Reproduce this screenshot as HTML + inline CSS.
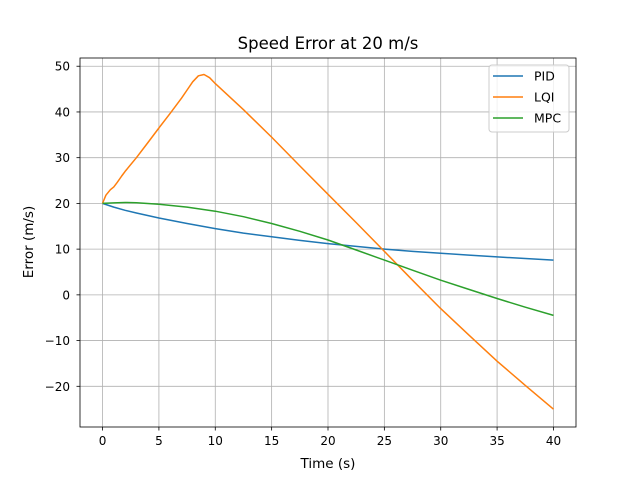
<!DOCTYPE html>
<html><head><meta charset="utf-8"><style>
body{margin:0;background:#fff;}
svg text{font-family:"DejaVu Sans","Liberation Sans",sans-serif;fill:#000;}
</style></head><body>
<svg id="chart" width="640" height="480" viewBox="0 0 640 480" xmlns="http://www.w3.org/2000/svg">
<rect width="640" height="480" fill="#fff"/>
<g id="grid"></g>
<g id="series"></g>
<rect x="80" y="58" width="496" height="369" fill="none" stroke="#000" stroke-width="0.8"/>
<g id="ticks"></g>
<text x="328" y="49" font-size="16.5" text-anchor="middle">Speed Error at 20 m/s</text>
<text x="328" y="468" font-size="13.5" text-anchor="middle">Time (s)</text>
<text x="33" y="242" font-size="13.5" text-anchor="middle" transform="rotate(-90 33 242)">Error (m/s)</text>
<g id="legend">
<rect x="489" y="65" width="80" height="67" rx="3" fill="#fff" fill-opacity="0.8" stroke="#ccc"/>
</g>
</svg>
<script>
const xTicks=[0,5,10,15,20,25,30,35,40];
const yTicks=[-20,-10,0,10,20,30,40,50];
const seriesNames=["PID","LQI","MPC"];
const seriesColors=["#1f77b4","#ff7f0e","#2ca02c"];
const pidT=[0,1,2,3,5,7.5,10,12.5,15,17.5,20,22.5,25,27.5,30,32.5,35,37.5,40];
const pidV=[20,19.2,18.5,17.9,16.8,15.6,14.5,13.5,12.7,11.9,11.2,10.6,10.0,9.5,9.1,8.7,8.3,7.95,7.6];
const lqiT=[0,0.3,0.7,1,1.3,1.7,2,3,4,5,6,7,7.5,8,8.5,9,9.5,10,12.5,15,17.5,20,22.5,25,27.5,30,32.5,35,37.5,40];
const lqiV=[20,21.8,23,23.6,24.6,26,27,30,33.2,36.5,39.7,43,44.8,46.6,47.9,48.2,47.5,46.2,40.5,34.5,28.2,22,15.8,9.5,3.2,-3,-8.8,-14.5,-19.8,-25];
const mpcT=[0,1,2,3,5,7.5,10,12.5,15,17.5,20,22.5,25,27.5,30,32.5,35,37.5,40];
const mpcV=[20,20.1,20.2,20.15,19.8,19.2,18.3,17.1,15.6,13.9,12,9.8,7.6,5.4,3.2,1.2,-0.8,-2.7,-4.5];
const NS="http://www.w3.org/2000/svg";
const X0=80,X1=576,Y0=58,Y1=427,xmin=-2,xmax=42,ymin=-28.9,ymax=51.8;
function sx(v){return X0+(v-xmin)/(xmax-xmin)*(X1-X0);}
function sy(v){return Y1-(v-ymin)/(ymax-ymin)*(Y1-Y0);}
function mk(tag,attrs,parent){const e=document.createElementNS(NS,tag);for(const k in attrs)e.setAttribute(k,attrs[k]);parent.appendChild(e);return e;}
const grid=document.getElementById('grid'),ticks=document.getElementById('ticks'),ser=document.getElementById('series'),leg=document.getElementById('legend');
xTicks.forEach(t=>{const x=sx(t);
const g=mk('line',{x1:x,x2:x,y1:Y0,y2:Y1,stroke:'#b0b0b0','stroke-width':0.8},grid);


mk('line',{x1:x,x2:x,y1:Y1,y2:Y1+3.5,stroke:'#000','stroke-width':0.8},ticks);
const tx=mk('text',{x:x,y:Y1+18,'font-size':12,'text-anchor':'middle'},ticks);tx.textContent=t;

});
yTicks.forEach(t=>{const y=sy(t);
const g=mk('line',{x1:X0,x2:X1,y1:y,y2:y,stroke:'#b0b0b0','stroke-width':0.8},grid);


mk('line',{x1:X0-3.5,x2:X0,y1:y,y2:y,stroke:'#000','stroke-width':0.8},ticks);
const tx=mk('text',{x:X0-10,y:y+4.5,'font-size':12,'text-anchor':'end'},ticks);tx.textContent=(t<0?'\u2212'+(-t):t);

});
const data=[[pidT,pidV],[lqiT,lqiV],[mpcT,mpcV]];
data.forEach((d,i)=>{const pts=d[0].map((t,j)=>sx(t).toFixed(1)+','+sy(d[1][j]).toFixed(1)).join(' ');
const p=mk('polyline',{points:pts,fill:'none',stroke:seriesColors[i],'stroke-width':1.5,'stroke-linejoin':'round'},ser);


const y=76+i*21;
mk('line',{x1:493,x2:523,y1:y,y2:y,stroke:seriesColors[i],'stroke-width':1.5},leg);
const tx=mk('text',{x:534,y:y+4.5,'font-size':12.5},leg);tx.textContent=seriesNames[i];

});
</script>
</body></html>
